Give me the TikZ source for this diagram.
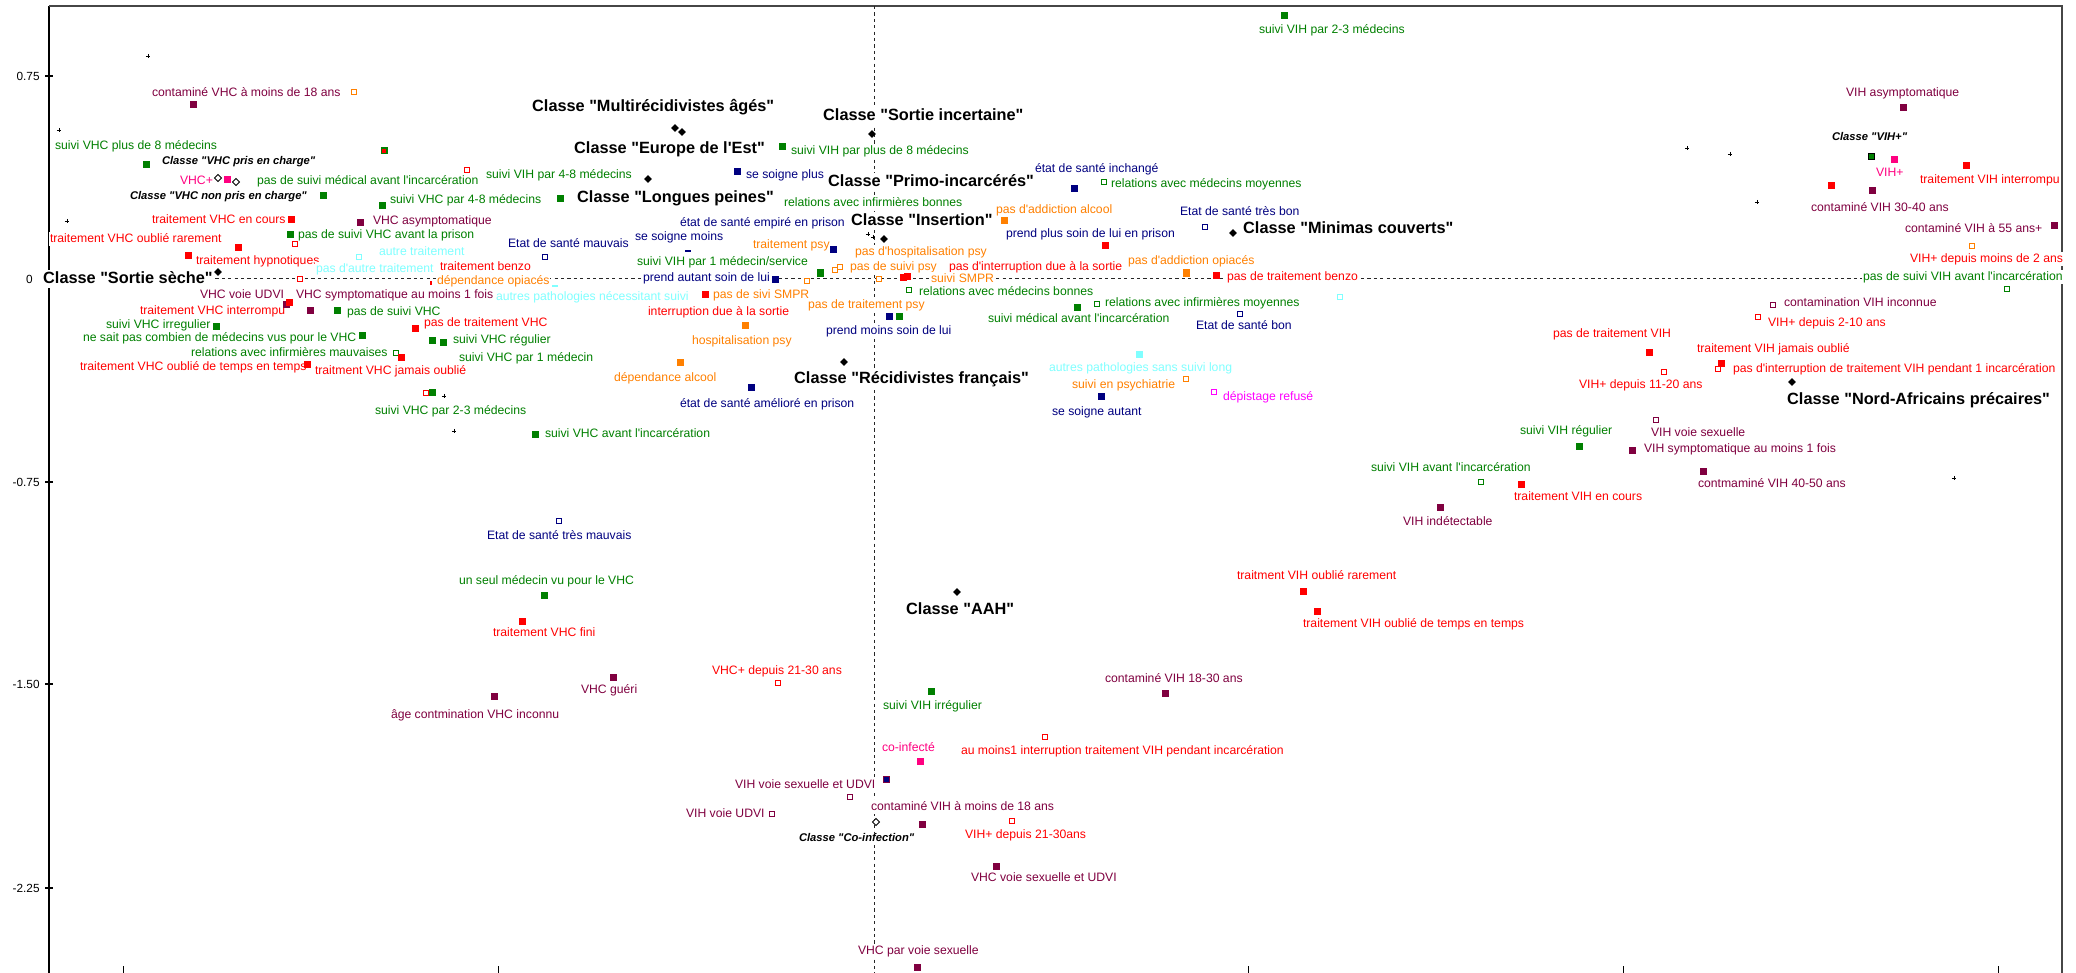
\documentclass[tikz,border=0pt]{standalone}
\usepackage{fontspec}
\newfontfamily\lsans{Liberation Sans}
\usetikzlibrary{shapes.geometric}
\definecolor{cg}{RGB}{0,128,0}
\definecolor{cr}{RGB}{255,0,0}
\definecolor{cm}{RGB}{128,0,64}
\definecolor{cn}{RGB}{0,0,128}
\definecolor{co}{RGB}{255,128,0}
\definecolor{cc}{RGB}{128,255,255}
\definecolor{cp}{RGB}{255,0,128}
\definecolor{cmg}{RGB}{255,0,255}
\definecolor{frm}{RGB}{70,70,70}
\newcounter{nid}
\newcommand\MK[3]{\stepcounter{nid}\node[#1] (p\thenid) at (#2,#3) {};}
\newcommand\LB[4]{\stepcounter{nid}\node[lab=#1] (t\thenid) at (#2,#3) {#4};}
\newcommand\CL[3]{\stepcounter{nid}\node[cls] (c\thenid) at (#1,#2) {#3};}
\newcommand\IC[3]{\stepcounter{nid}\node[icls] (c\thenid) at (#1,#2) {#3};}
\newcommand\PM[2]{\draw[line width=0.45pt] (#1-2.2,#2) -- (#1+2.2,#2) (#1,#2-2.2) -- (#1,#2+2.2);}
\tikzset{
 sq/.style={rectangle, inner sep=0pt, minimum size=3.5pt, fill=#1},
 osq/.style={rectangle, inner sep=0pt, minimum size=2.9pt, draw=#1, line width=0.55pt, fill=white},
 dia/.style={diamond, inner sep=0pt, minimum size=4pt, fill=black},
 odia/.style={diamond, inner sep=0pt, minimum size=3.6pt, draw=black, line width=0.45pt, fill=white},
 lab/.style={anchor=west, inner xsep=0.3pt, inner ysep=0.5pt, fill=white, text=#1,
   font=\lsans\fontsize{6.1}{7}\selectfont, text height=4.4pt, text depth=1.2pt},
 cls/.style={anchor=west, inner xsep=0.4pt, inner ysep=0.6pt, fill=white, text=black,
   font=\lsans\bfseries\fontsize{8.15}{9}\selectfont, text height=5.9pt, text depth=1.6pt},
 icls/.style={anchor=west, inner xsep=0.3pt, inner ysep=0.4pt, fill=white, text=black,
   font=\lsans\bfseries\itshape\fontsize{5.6}{6.5}\selectfont, text height=4pt, text depth=1.1pt},
 ticklab/.style={anchor=east, inner sep=0pt, font=\lsans\fontsize{5.9}{7}\selectfont},
 axdash/.style={line width=0.5pt, black!85, dash pattern=on 1.6pt off 1.6pt}
}
\begin{document}
\begin{tikzpicture}[x=0.5pt,y=-0.5pt]
\useasboundingbox (0,0) rectangle (2076,973);
% frame
\draw[line width=0.8pt, black] (49,973) -- (49,6);
\draw[line width=0.8pt, frm] (49,6) -- (2062,6) -- (2062,973);
% dashed axes
\draw[axdash] (49,278) -- (2062,278);
\draw[axdash] (874,6) -- (874,973);
% ticks
\foreach \yy/\tl in {76/0.75,482/-0.75,684/-1.50,888/-2.25}{
  \draw[line width=0.6pt] (45,\yy) -- (53,\yy);
  \node[ticklab] at (40,\yy) {\tl};}
\draw[line width=0.6pt] (45,278) -- (53,278);
\node[ticklab] at (33,279) {0};
\foreach \xx in {123,498,1248,1623,1998}{\draw[line width=0.5pt] (\xx,966) -- (\xx,973);}

% ---------- labels ----------
\LB{cm}{151}{93}{contaminé VHC à moins de 18 ans}
\LB{cg}{54}{146}{suivi VHC plus de 8 médecins}
\LB{cp}{179}{181}{VHC+}
\LB{cg}{256}{181}{pas de suivi médical avant l'incarcération}
\LB{cg}{389}{200}{suivi VHC par 4-8 médecins}
\LB{cg}{485}{175}{suivi VIH par 4-8 médecins}
\LB{cr}{151}{220}{traitement VHC en cours}
\LB{cm}{372}{221}{VHC asymptomatique}
\LB{cr}{49}{239}{traitement VHC oublié rarement}
\LB{cg}{297}{235}{pas de suivi VHC avant la prison}
\LB{cr}{195}{261}{traitement hypnotiques}
\LB{cc}{378}{252}{autre traitement}
\LB{cn}{507}{244}{Etat de santé mauvais}
\LB{cc}{315}{269}{pas d'autre traitement}
\LB{cr}{439}{267}{traitement benzo}
\LB{co}{436}{281}{dépendance opiacés}
\LB{cm}{199}{295}{VHC voie UDVI}
\LB{cm}{295}{295}{VHC symptomatique au moins 1 fois}
\LB{cc}{495}{297}{autres pathologies nécessitant suivi}
\LB{cr}{139}{311}{traitement VHC interrompu}
\LB{cg}{346}{312}{pas de suivi VHC}
\LB{cg}{105}{325}{suivi VHC irregulier}
\LB{cr}{423}{323}{pas de traitement VHC}
\LB{cg}{82}{338}{ne sait pas combien de médecins vus pour le VHC}
\LB{cg}{452}{340}{suivi VHC régulier}
\LB{cg}{190}{353}{relations avec infirmières mauvaises}
\LB{cg}{458}{358}{suivi VHC par 1 médecin}
\LB{cr}{79}{367}{traitement VHC oublié de temps en temps}
\LB{cr}{314}{371}{traitment VHC jamais oublié}
\LB{cg}{374}{411}{suivi VHC par 2-3 médecins}
\LB{cn}{486}{536}{Etat de santé très mauvais}
\LB{cg}{458}{581}{un seul médecin vu pour le VHC}
\LB{cr}{492}{633}{traitement VHC fini}
\LB{cm}{390}{715}{âge contmination VHC inconnu}
\LB{cm}{580}{690}{VHC guéri}

\LB{cg}{790}{151}{suivi VIH par plus de 8 médecins}
\LB{cn}{745}{175}{se soigne plus}
\LB{cg}{783}{203}{relations avec infirmières bonnes}
\LB{co}{995}{210}{pas d'addiction alcool}
\LB{cn}{679}{223}{état de santé empiré en prison}
\LB{cn}{1005}{234}{prend plus soin de lui en prison}
\LB{cn}{634}{237}{se soigne moins}
\LB{co}{752}{245}{traitement psy}
\LB{co}{854}{252}{pas d'hospitalisation psy}
\LB{cg}{636}{262}{suivi VIH par 1 médecin/service}
\LB{co}{849}{267}{pas de suivi psy}
\LB{cr}{948}{267}{pas d'interruption due à la sortie}
\LB{cn}{642}{278}{prend autant soin de lui}
\LB{co}{930}{279}{suivi SMPR}
\LB{cg}{918}{292}{relations avec médecins bonnes}
\LB{co}{712}{295}{pas de sivi SMPR}
\LB{co}{807}{305}{pas de traitement psy}
\LB{cr}{647}{312}{interruption due à la sortie}
\LB{cg}{987}{319}{suivi médical avant l'incarcération}
\LB{cn}{825}{331}{prend moins soin de lui}
\LB{co}{691}{341}{hospitalisation psy}
\LB{co}{613}{378}{dépendance alcool}
\LB{cn}{679}{404}{état de santé amélioré en prison}
\LB{cg}{544}{434}{suivi VHC avant l'incarcération}

\LB{cg}{1258}{30}{suivi VIH par 2-3 médecins}
\LB{cn}{1034}{169}{état de santé inchangé}
\LB{cg}{1110}{184}{relations avec médecins moyennes}
\LB{cn}{1179}{212}{Etat de santé très bon}
\LB{co}{1127}{261}{pas d'addiction opiacés}
\LB{cr}{1226}{277}{pas de traitement benzo}
\LB{cg}{1104}{303}{relations avec infirmières moyennes}
\LB{cn}{1195}{326}{Etat de santé bon}

\LB{cc}{1048}{368}{autres pathologies sans suivi long}
\LB{co}{1071}{385}{suivi en psychiatrie}
\LB{cn}{1051}{412}{se soigne autant}
\LB{cmg}{1222}{397}{dépistage refusé}
\LB{cg}{1370}{468}{suivi VIH avant l'incarcération}
\LB{cr}{1513}{497}{traitement VIH en cours}
\LB{cm}{1402}{522}{VIH indétectable}
\LB{cr}{1236}{576}{traitment VIH oublié rarement}
\LB{cr}{1302}{624}{traitement VIH oublié de temps en temps}

\LB{cr}{1767}{323}{VIH+ depuis 2-10 ans}
\LB{cr}{1552}{334}{pas de traitement VIH}
\LB{cr}{1696}{349}{traitement VIH jamais oublié}
\LB{cr}{1732}{369}{pas d'interruption de traitement VIH pendant 1 incarcération}
\LB{cr}{1578}{385}{VIH+ depuis 11-20 ans}
\LB{cm}{1650}{433}{VIH voie sexuelle}
\LB{cg}{1519}{431}{suivi VIH régulier}
\LB{cm}{1643}{449}{VIH symptomatique au moins 1 fois}
\LB{cm}{1697}{484}{contmaminé VIH 40-50 ans}

\LB{cm}{1845}{93}{VIH asymptomatique}
\LB{cp}{1875}{173}{VIH+}
\LB{cr}{1919}{180}{traitement VIH interrompu}
\LB{cm}{1810}{208}{contaminé VIH 30-40 ans}
\LB{cm}{1904}{229}{contaminé VIH à 55 ans+}
\LB{cr}{1909}{259}{VIH+ depuis moins de 2 ans}
\LB{cg}{1862}{277}{pas de suivi VIH avant l'incarcération}
\LB{cm}{1783}{303}{contamination VIH inconnue}

\LB{cr}{711}{671}{VHC+ depuis 21-30 ans}
\LB{cg}{882}{706}{suivi VIH irrégulier}
\LB{cp}{881}{748}{co-infecté}
\LB{cr}{960}{751}{au moins1 interruption traitement VIH pendant incarcération}
\LB{cm}{734}{785}{VIH voie sexuelle et UDVI}
\LB{cm}{685}{814}{VIH voie UDVI}
\LB{cm}{870}{807}{contaminé VIH à moins de 18 ans}
\LB{cr}{964}{835}{VIH+ depuis 21-30ans}
\LB{cm}{970}{878}{VHC voie sexuelle et UDVI}
\LB{cm}{857}{951}{VHC par voie sexuelle}
\LB{cm}{1104}{679}{contaminé VIH 18-30 ans}

% ---------- class labels ----------
\IC{161}{162}{Classe "VHC pris en charge"}
\IC{129}{197}{Classe "VHC non pris en charge"}
\IC{1831}{138}{Classe "VIH+"}
\IC{798}{839}{Classe "Co-infection"}
\CL{42}{279}{Classe "Sortie sèche"}
\CL{531}{107}{Classe "Multirécidivistes âgés"}
\CL{822}{116}{Classe "Sortie incertaine"}
\CL{573}{149}{Classe "Europe de l'Est"}
\CL{827}{182}{Classe "Primo-incarcérés"}
\CL{576}{198}{Classe "Longues peines"}
\CL{850}{221}{Classe "Insertion"}
\CL{793}{379}{Classe "Récidivistes français"}
\CL{905}{610}{Classe "AAH"}
\CL{1242}{229}{Classe "Minimas couverts"}
\CL{1786}{400}{Classe "Nord-Africains précaires"}

% ---------- markers ----------
\MK{sq=cm}{193}{105}
\MK{osq=co}{354}{92}
\MK{sq=cg}{146}{165}
\MK{sq=cg}{384}{151}
\MK{sq=cr, minimum size=2pt}{384}{151}
\MK{osq=cr}{467}{170}
\MK{odia}{218}{178}
\MK{sq=cp}{227}{180}
\MK{odia}{236}{182}
\MK{sq=cg}{323}{196}
\MK{sq=cg}{382}{206}
\MK{sq=cr}{291}{220}
\MK{sq=cm}{360}{223}
\MK{sq=cg}{290}{235}
\MK{sq=cr}{238}{248}
\MK{osq=cr}{295}{244}
\MK{sq=cr}{188}{256}
\MK{osq=cc}{359}{257}
\MK{osq=cn}{545}{257}
\MK{dia}{218}{272}
\MK{osq=cr}{300}{279}
\MK{sq=cr, minimum width=1.4pt, minimum height=2.4pt}{431}{283}
\MK{sq=cm}{286}{304}
\MK{sq=cr}{289}{302}
\MK{sq=cm}{310}{310}
\MK{sq=cg}{337}{310}
\MK{sq=cg}{216}{326}
\MK{sq=cr}{415}{328}
\MK{sq=cg}{362}{335}
\MK{sq=cg}{432}{340}
\MK{sq=cg}{443}{342}
\MK{osq=cg}{396}{353}
\MK{sq=cr}{401}{357}
\MK{sq=cr}{307}{364}
\MK{osq=cr}{426}{393}
\MK{sq=cg}{432}{392}
\MK{osq=cn}{559}{521}
\MK{sq=cg}{544}{595}
\MK{sq=cr}{522}{621}
\MK{sq=cm}{494}{696}
\MK{sq=cm}{613}{677}
\MK{osq=cr}{778}{683}

\MK{dia}{675}{128}
\MK{dia}{682}{132}
\MK{dia}{872}{134}
\MK{sq=cg}{782}{147}
\MK{dia}{648}{179}
\MK{sq=cn}{737}{172}
\MK{sq=cg}{560}{199}
\MK{sq=co}{1004}{221}
\MK{dia}{884}{239}
\MK{sq=cn, minimum width=3pt, minimum height=1pt}{688}{251}
\MK{sq=cn}{833}{250}
\MK{sq=cg}{820}{273}
\MK{osq=co}{835}{270}
\MK{osq=co}{840}{267}
\MK{sq=cn}{775}{279}
\MK{osq=co}{807}{281}
\MK{osq=co}{879}{279}
\MK{sq=cr}{903}{277}
\MK{sq=cr}{907}{276}
\MK{osq=cg}{909}{290}
\MK{sq=cr}{705}{294}
\MK{sq=cc, minimum width=3pt, minimum height=1.2pt}{555}{286}
\MK{sq=co}{745}{325}
\MK{sq=co}{680}{362}
\MK{sq=cn}{751}{387}
\MK{dia}{844}{362}
\MK{sq=cg}{535}{434}
\MK{sq=cn}{889}{316}
\MK{sq=cg}{899}{316}
\MK{dia}{957}{592}

\MK{sq=cg}{1284}{16}
\MK{sq=cn}{1074}{189}
\MK{osq=cg}{1104}{182}
\MK{osq=cn}{1205}{227}
\MK{dia}{1233}{233}
\MK{sq=cr}{1105}{246}
\MK{sq=co}{1186}{273}
\MK{sq=cr}{1216}{275}
\MK{osq=cc}{1340}{297}
\MK{sq=cg}{1077}{307}
\MK{osq=cg}{1097}{304}
\MK{osq=cn}{1240}{314}

\MK{sq=cc}{1139}{354}
\MK{osq=co}{1186}{379}
\MK{sq=cn}{1101}{396}
\MK{osq=cmg}{1214}{392}
\MK{osq=cg}{1481}{482}
\MK{sq=cr}{1521}{484}
\MK{sq=cm}{1440}{507}
\MK{sq=cr}{1303}{591}
\MK{sq=cr}{1317}{611}

\MK{osq=cr}{1758}{317}
\MK{sq=cr}{1649}{352}
\MK{sq=cr}{1721}{363}
\MK{osq=cr}{1718}{369}
\MK{osq=cr}{1664}{372}
\MK{dia}{1792}{382}
\MK{osq=cm}{1656}{420}
\MK{sq=cg}{1579}{446}
\MK{sq=cm}{1632}{450}
\MK{sq=cm}{1703}{471}

\MK{sq=cm}{1903}{108}
\MK{sq=cg, draw=black, line width=0.4pt, minimum size=3pt}{1871}{156}
\MK{sq=cp}{1894}{160}
\MK{sq=cr}{1966}{166}
\MK{sq=cr}{1831}{186}
\MK{sq=cm}{1872}{191}
\MK{sq=cm}{2054}{226}
\MK{osq=co}{1972}{246}
\MK{osq=cg}{2007}{289}
\MK{osq=cm}{1773}{305}

\MK{sq=cg}{931}{691}
\MK{sq=cp}{920}{761}
\MK{osq=cr}{1045}{737}
\MK{sq=cn, draw=cm, line width=0.4pt, minimum size=3pt}{886}{779}
\MK{osq=cm}{850}{797}
\MK{osq=cm}{772}{814}
\MK{sq=cm}{922}{824}
\MK{odia}{876}{822}
\MK{osq=cr}{1012}{821}
\MK{sq=cm}{996}{866}
\MK{sq=cm}{917}{967}
\MK{sq=cm}{1165}{693}

% ---------- small plus marks ----------
\PM{148}{56}
\PM{59}{130}
\PM{67}{221}
\PM{444}{396}
\PM{454}{431}
\PM{868}{234}
\PM{873}{237}
\PM{1687}{148}
\PM{1730}{154}
\PM{1757}{202}
\PM{1954}{478}
\end{tikzpicture}
\end{document}
